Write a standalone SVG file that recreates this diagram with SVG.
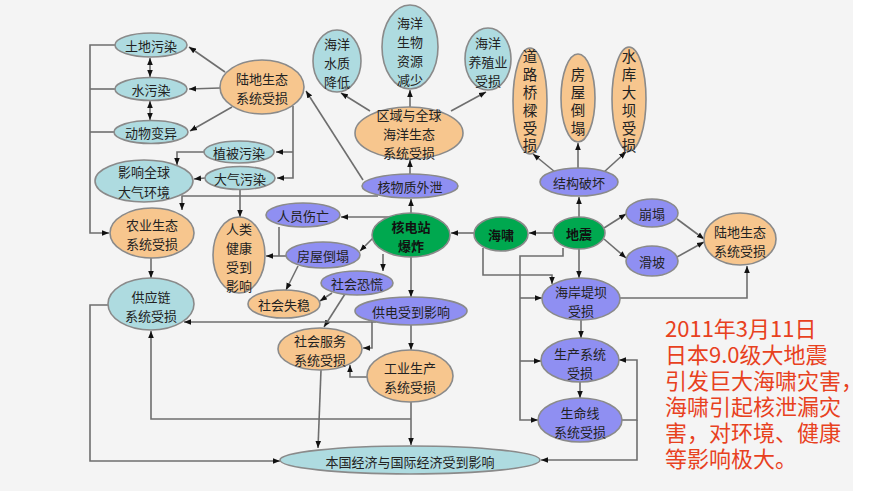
<svg xmlns="http://www.w3.org/2000/svg" width="881" height="491" viewBox="0 0 881 491">
<defs>
<marker id="a" viewBox="0 0 10 10" refX="10" refY="5" markerWidth="7" markerHeight="7" markerUnits="userSpaceOnUse" orient="auto-start-reverse"><path d="M0,1 L10,5 L0,9 z" fill="#111"/></marker>
</defs>
<style>
.c path{fill:none;stroke:#6e6e6e;stroke-width:1.6}
.m{marker-end:url(#a)}
.d{marker-start:url(#a);marker-end:url(#a)}
ellipse{stroke:#8a8a8a;stroke-width:1.6}
.t{fill:#aedbe0}
.o{fill:#f7c68e}
.p{fill:#8f8ff2}
.g{fill:#00a84f}
text{font-family:"Noto Sans CJK SC","Noto Sans",sans-serif;font-size:13px;fill:#222;text-anchor:middle;dominant-baseline:central}
.b{font-weight:bold;fill:#111}
.v{font-size:14.5px;writing-mode:vertical-rl;letter-spacing:3.3px}
.r{font-size:22px;fill:#e8411e;text-anchor:start;dominant-baseline:alphabetic}
</style>
<rect x="0" y="0" width="881" height="491" fill="#ffffff"/>
<rect x="0" y="0" width="853" height="491" fill="#f4f4f4"/>
<g class="c" id="connectors">
<path class="m" d="M225,72 L189,47"/>
<path class="m" d="M220,88 L189,89"/>
<path class="m" d="M232,107 L190,131"/>
<path class="d" d="M150,58 V77"/>
<path class="d" d="M150,101 V120"/>
<path class="m" d="M293,106 V178 H277"/>
<path class="m" d="M293,152 H276"/>
<path class="m" d="M204,152 H177 V165"/>
<path class="m" d="M205,178 L194,179"/>
<path class="m" d="M115,45 H90 V233 H109"/>
<path d="M115,89 H90"/>
<path d="M115,132 H90"/>
<path class="m" d="M240,190 V217"/>
<path class="m" d="M378,196 H182 V210"/>
<path class="m" d="M363,180 L306,91"/>
<path class="m" d="M410,174 V160"/>
<path class="m" d="M370,111 L341,93"/>
<path class="m" d="M410,107 V90"/>
<path class="m" d="M451,111 L486,92"/>
<path class="m" d="M411,213 V199"/>
<path class="m" d="M390,217 H341"/>
<path d="M279,227 V256"/>
<path class="m" d="M287,256 H266"/>
<path class="m" d="M373,238 L360,251"/>
<path class="m" d="M383,254 V271"/>
<path class="m" d="M411,257 V297"/>
<path class="m" d="M298,266 L286,290"/>
<path class="m" d="M332,293 L320,301"/>
<path class="m" d="M345,294 L324,327"/>
<path class="m" d="M376,322 H184"/>
<path class="m" d="M372,318 V348 H363"/>
<path class="m" d="M411,324 V350"/>
<path class="m" d="M368,377 H350 V365"/>
<path class="m" d="M321,370 L318,448"/>
<path class="m" d="M411,402 V445"/>
<path class="m" d="M411,419 H151 V331"/>
<path class="m" d="M108,305 H90 V461 H280"/>
<path class="m" d="M151,258 V278"/>
<path class="m" d="M553,233 H529"/>
<path class="m" d="M475,233 H451"/>
<path class="m" d="M579,217 V197"/>
<path class="m" d="M555,172 L533,154"/>
<path class="m" d="M578,168 V143"/>
<path class="m" d="M604,172 L626,152"/>
<path class="m" d="M604,228 L626,214"/>
<path class="m" d="M604,239 L626,258"/>
<path class="m" d="M677,219 L704,239"/>
<path class="m" d="M677,257 L704,242"/>
<path class="m" d="M579,249 V278"/>
<path class="m" d="M483,248 V275 H552 V284"/>
<path class="m" d="M563,248 V256 H520 V420 H538"/>
<path class="m" d="M520,298 H542"/>
<path class="m" d="M520,361 H541"/>
<path class="m" d="M581,320 V338"/>
<path class="m" d="M580,382 V398"/>
<path class="m" d="M620,298 H747 V266"/>
<path class="m" d="M622,420 H637 V360 H619"/>
<path class="m" d="M637,420 V460 H541"/>
</g>
<g id="n-tudi"><ellipse class="t" cx="151" cy="45" rx="36" ry="12"/><text x="151" y="45">土地污染</text></g>
<g id="n-shui"><ellipse class="t" cx="151" cy="89" rx="36" ry="11.5"/><text x="151" y="89">水污染</text></g>
<g id="n-dongwu"><ellipse class="t" cx="151" cy="132" rx="37" ry="11.5"/><text x="151" y="132">动物变异</text></g>
<g id="n-ludi1"><ellipse class="o" cx="262" cy="87" rx="42" ry="27"/><text><tspan x="262" y="78">陆地生态</tspan><tspan x="262" y="97">系统受损</tspan></text></g>
<g id="n-zhibei"><ellipse class="t" cx="239" cy="152" rx="35" ry="11"/><text x="239" y="152">植被污染</text></g>
<g id="n-daqi"><ellipse class="t" cx="240" cy="178" rx="35" ry="11.5"/><text x="240" y="178">大气污染</text></g>
<g id="n-yingxiang"><ellipse class="t" cx="144" cy="181" rx="49" ry="21"/><text><tspan x="144" y="171">影响全球</tspan><tspan x="144" y="191">大气环境</tspan></text></g>
<g id="n-nongye"><ellipse class="o" cx="152" cy="233" rx="42" ry="25"/><text><tspan x="152" y="224">农业生态</tspan><tspan x="152" y="243">系统受损</tspan></text></g>
<g id="n-renlei"><ellipse class="o" cx="239" cy="255" rx="26" ry="38"/><text><tspan x="239" y="228">人类</tspan><tspan x="239" y="247">健康</tspan><tspan x="239" y="266">受到</tspan><tspan x="239" y="285">影响</tspan></text></g>
<g id="n-gongying"><ellipse class="t" cx="151" cy="304" rx="43" ry="26"/><text><tspan x="151" y="296">供应链</tspan><tspan x="151" y="315">系统受损</tspan></text></g>
<g id="n-renyuan"><ellipse class="p" cx="303" cy="215" rx="37" ry="12"/><text x="303" y="215">人员伤亡</text></g>
<g id="n-hedian"><ellipse class="g" cx="411" cy="235" rx="39" ry="22"/><text class="b"><tspan x="411" y="226">核电站</tspan><tspan x="411" y="245">爆炸</tspan></text></g>
<g id="n-fangwu1"><ellipse class="p" cx="323" cy="255" rx="37" ry="13"/><text x="323" y="255">房屋倒塌</text></g>
<g id="n-konghuang"><ellipse class="p" cx="357" cy="283" rx="36" ry="12"/><text x="357" y="283">社会恐慌</text></g>
<g id="n-shiwen"><ellipse class="o" cx="284" cy="304" rx="36" ry="14"/><text x="284" y="304">社会失稳</text></g>
<g id="n-gongdian"><ellipse class="p" cx="411" cy="311" rx="56" ry="14"/><text x="411" y="311">供电受到影响</text></g>
<g id="n-shehui"><ellipse class="o" cx="320" cy="349" rx="42" ry="21"/><text><tspan x="320" y="340">社会服务</tspan><tspan x="320" y="359">系统受损</tspan></text></g>
<g id="n-gongye"><ellipse class="o" cx="410" cy="376" rx="43" ry="26"/><text><tspan x="410" y="367">工业生产</tspan><tspan x="410" y="386">系统受损</tspan></text></g>
<g id="n-benguo"><ellipse class="t" cx="410" cy="460" rx="130" ry="14"/><text x="410" y="461">本国经济与国际经济受到影响</text></g>
<g id="n-hewuzhi"><ellipse class="p" cx="410" cy="186" rx="48" ry="12"/><text x="410" y="186">核物质外泄</text></g>
<g id="n-haiyang"><ellipse class="o" cx="409" cy="133" rx="54" ry="26"/><text><tspan x="409" y="114">区域与全球</tspan><tspan x="409" y="133">海洋生态</tspan><tspan x="409" y="152">系统受损</tspan></text></g>
<g id="n-shuizhi"><ellipse class="t" cx="337" cy="61" rx="24" ry="31"/><text><tspan x="337" y="43">海洋</tspan><tspan x="337" y="62">水质</tspan><tspan x="337" y="81">降低</tspan></text></g>
<g id="n-shengwu"><ellipse class="t" cx="410" cy="47" rx="28" ry="42"/><text><tspan x="410" y="22">海洋</tspan><tspan x="410" y="41">生物</tspan><tspan x="410" y="60">资源</tspan><tspan x="410" y="79">减少</tspan></text></g>
<g id="n-yangzhi"><ellipse class="t" cx="488" cy="59" rx="23" ry="31"/><text><tspan x="488" y="42">海洋</tspan><tspan x="488" y="61">养殖业</tspan><tspan x="488" y="80">受损</tspan></text></g>
<g id="n-daolu"><ellipse class="o" cx="530" cy="101" rx="17" ry="53"/><text class="v" x="530" y="103">道路桥樑受损</text></g>
<g id="n-fangwu2"><ellipse class="o" cx="578" cy="98" rx="17" ry="44"/><text class="v" x="578" y="103">房屋倒塌</text></g>
<g id="n-shuiku"><ellipse class="o" cx="629" cy="99" rx="17" ry="52"/><text class="v" x="629" y="103">水库大坝受损</text></g>
<g id="n-jiegou"><ellipse class="p" cx="579" cy="182" rx="39" ry="14"/><text x="579" y="182">结构破坏</text></g>
<g id="n-haixiao"><ellipse class="g" cx="501" cy="234" rx="27" ry="17"/><text class="b" x="501" y="234">海啸</text></g>
<g id="n-dizhen"><ellipse class="g" cx="579" cy="233" rx="26" ry="16"/><text class="b" x="579" y="233">地震</text></g>
<g id="n-bengta"><ellipse class="p" cx="652" cy="213" rx="26" ry="14"/><text x="652" y="213">崩塌</text></g>
<g id="n-huapo"><ellipse class="p" cx="652" cy="261" rx="26" ry="15"/><text x="652" y="261">滑坡</text></g>
<g id="n-ludi2"><ellipse class="o" cx="740" cy="239" rx="36" ry="26"/><text><tspan x="740" y="231">陆地生态</tspan><tspan x="740" y="250">系统受损</tspan></text></g>
<g id="n-haian"><ellipse class="p" cx="581" cy="299" rx="39" ry="21"/><text><tspan x="581" y="291">海岸堤坝</tspan><tspan x="581" y="310">受损</tspan></text></g>
<g id="n-shengchan"><ellipse class="p" cx="580" cy="360" rx="39" ry="22"/><text><tspan x="580" y="353">生产系统</tspan><tspan x="580" y="372">受损</tspan></text></g>
<g id="n-shengming"><ellipse class="p" cx="580" cy="420" rx="42" ry="22"/><text><tspan x="580" y="412">生命线</tspan><tspan x="580" y="431">系统受损</tspan></text></g>
<g id="note"><text class="r"><tspan x="665" y="337">2011年3月11日</tspan><tspan x="665" y="363">日本9.0级大地震</tspan><tspan x="665" y="389">引发巨大海啸灾害，</tspan><tspan x="665" y="415">海啸引起核泄漏灾</tspan><tspan x="665" y="441">害，对环境、健康</tspan><tspan x="665" y="467">等影响极大。</tspan></text></g>
</svg>
